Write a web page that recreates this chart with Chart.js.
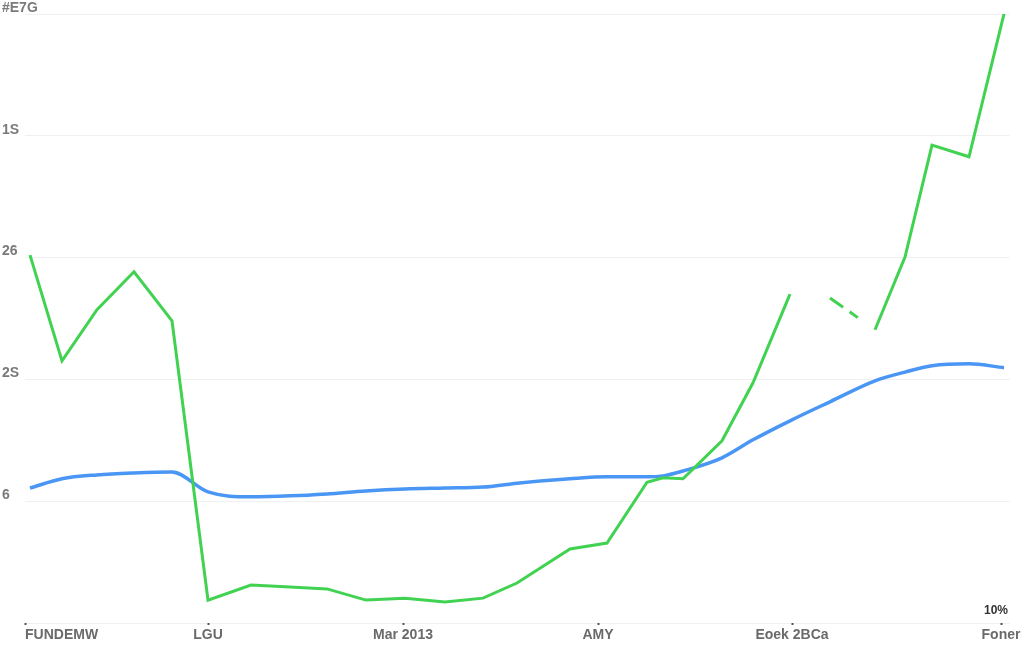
<!DOCTYPE html>
<html>
<head>
<meta charset="utf-8">
<script src="https://cdn.jsdelivr.net/npm/chart.js@4"></script>
<style>
  html, body { margin: 0; padding: 0; background: #fff; }
  #wrap { width: 1024px; height: 647px; position: relative; }
</style>
</head>
<body>
<div id="wrap"><canvas id="myChart"></canvas></div>
<script>
// x positions of the samples
const xs = [5, 37, 72, 109, 147, 183, 226, 265, 302, 341, 380, 420, 458, 492, 545, 582, 622, 638, 658, 697, 728, 765, 805, 850, 880, 907, 944, 979];

const greenValues = [75.5, 53.8, 64.3, 72.1, 62.0, 4.7, 7.8, 7.4, 7.0, 4.7, 5.1, 4.3, 5.1, 8.2, 15.2, 16.4, 28.9, 29.8, 29.6, 37.4, 49.3, 67.5, 66.7, 60.2, 75.1, 98.1, 95.7, 125];
const blueValues = [27.7, 29.6, 30.4, 30.8, 31.0, 26.9, 25.9, 26.1, 26.5, 27.1, 27.5, 27.7, 27.9, 28.7, 29.6, 30.0, 30.0, 30.2, 31.2, 33.9, 37.6, 41.5, 45.4, 49.7, 51.5, 52.8, 53.2, 52.4];

// green line: segment ending at gapIndex is hidden, the one ending at dashIndex is dashed
const gapIndex = 22;
const dashIndex = 23;

const xTickValues = [0, 183, 378, 573, 767, 976, 985];
const xTickLabels = ["FUNDEMW", "LGU", "Mar 2013", "AMY", "Eoek 2BCa", "Foner", ""];
const yTickLabels = ["", "6", "2S", "26", "1S", "#E7G"];
const cornerNote = "10%";

function toPoints(vals) {
  return vals.map((v, i) => ({ x: xs[i], y: v }));
}

const notePlugin = {
  id: 'note',
  afterDraw(chart) {
    const ctx = chart.ctx;
    const xScale = chart.scales.x;
    const yScale = chart.scales.y;
    ctx.save();
    ctx.font = 'bold 12px "Liberation Sans", Arial, sans-serif';
    ctx.fillStyle = '#333';
    ctx.textAlign = 'center';
    ctx.textBaseline = 'middle';
    ctx.fillText(cornerNote, xScale.getPixelForValue(xs[xs.length - 1]) - 8, yScale.bottom - 12);
    ctx.restore();
  }
};

const data = {
  datasets: [
    {
      label: "Green",
      data: toPoints(greenValues),
      borderColor: "rgb(64, 210, 80)",
      borderWidth: 3,
      pointRadius: 0,
      tension: 0,
      segment: {
        borderColor: ctx => ctx.p1DataIndex === gapIndex ? 'rgba(0,0,0,0)' : undefined,
        borderDash: ctx => ctx.p1DataIndex === dashIndex ? [16, 8, 10, 100] : undefined
      }
    },
    {
      label: "Blue",
      data: toPoints(blueValues),
      borderColor: "rgb(74, 150, 245)",
      borderWidth: 3.5,
      pointRadius: 0,
      cubicInterpolationMode: 'monotone'
    }
  ]
};

const config = {
  type: "line",
  data: data,
  options: {
    responsive: true,
    maintainAspectRatio: false,
    animation: false,
    layout: {
      padding: { top: 14, right: 14, bottom: 0, left: 0 }
    },
    plugins: {
      legend: { display: false },
      tooltip: { enabled: false }
    },
    scales: {
      x: {
        type: 'linear',
        min: 0,
        max: 985,
        afterBuildTicks: scale => {
          scale.ticks = xTickValues.map(v => ({ value: v }));
        },
        afterFit: scale => { scale.height = 24; },
        border: { display: false },
        grid: {
          drawOnChartArea: false,
          tickLength: 2,
          tickWidth: 2,
          tickColor: ctx => xTickLabels[ctx.index] ? '#555' : 'rgba(0,0,0,0)'
        },
        ticks: {
          autoSkip: false,
          maxRotation: 0,
          align: 'inner',
          padding: 2,
          color: '#6a6a6a',
          font: { family: '"Liberation Sans", Arial, sans-serif', size: 14, weight: 'bold' },
          callback: (v, i) => xTickLabels[i]
        }
      },
      y: {
        min: 0,
        max: 125,
        afterFit: scale => { scale.width = 25; },
        border: { display: false },
        grid: {
          color: 'rgba(0,0,0,0.06)',
          drawTicks: false
        },
        ticks: {
          stepSize: 25,
          mirror: true,
          padding: -23,
          labelOffset: -6,
          color: '#7a7a7a',
          font: { family: '"Liberation Sans", Arial, sans-serif', size: 14, weight: 'bold' },
          callback: (v, i) => yTickLabels[i]
        }
      }
    }
  },
  plugins: [notePlugin]
};

const myChart = new Chart(document.getElementById("myChart"), config);
</script>
</body>
</html>
